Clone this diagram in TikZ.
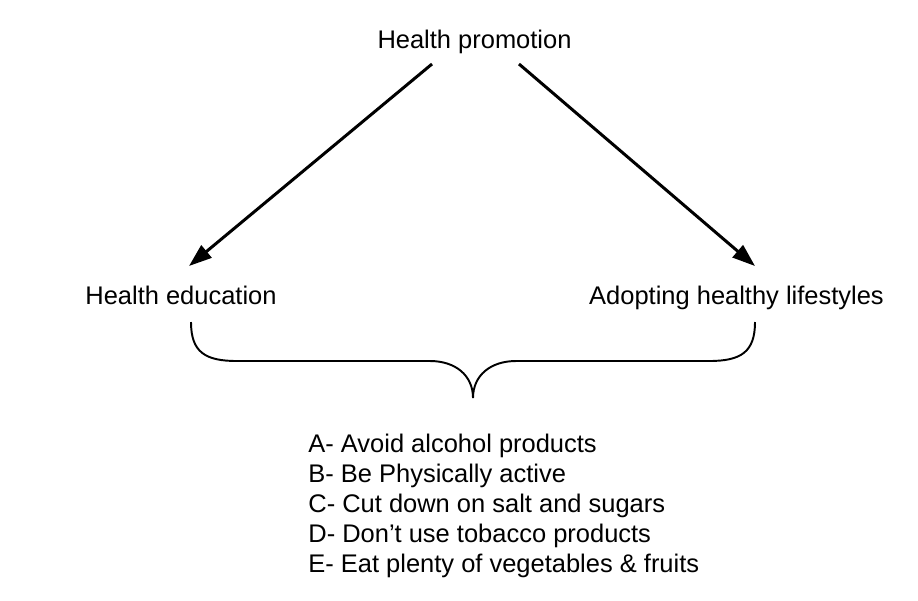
\documentclass[tikz,border=0pt]{standalone}
\usepackage{fontspec}
\setmainfont{Liberation Sans}
\usepackage{tikz}
\usetikzlibrary{calc}
\usetikzlibrary{arrows.meta}

\begin{document}
\begin{tikzpicture}[x=0.02cm, y=-0.02cm,
  every node/.style={font=\fontsize{14.5}{17}\selectfont},
  arrow/.style={line width=1.7pt, -{Triangle[length=13pt, width=9pt]}}]
\useasboundingbox (0, 0) rectangle (918, 600);

% TOP
\node[anchor=base] (promo) at (474.5, 48) {Health promotion};

% SIDES
\node[anchor=base] (edu) at (181, 304) {Health education};
\node[anchor=base] (life) at (736.5, 304) {Adopting healthy lifestyles};

% ARROWS
\draw[arrow] ($(promo.base) + (-42.5, 16)$) -- ($(edu.base) + (8, -38)$);
\draw[arrow] ($(promo.base) + (44.5, 16)$) -- ($(life.base) + (18.5, -38)$);

% BRACE
\coordinate (bl) at ($(edu.base) + (10, 18)$);
\coordinate (br) at ($(life.base) + (18.5, 18)$);
\coordinate (bt) at (473, 398);
\draw[line width=1.1pt] (bl) .. controls (191, 352) and (205, 361) .. (237, 361)
  -- (430, 361) .. controls (455, 361) and (473, 375) .. (bt)
  .. controls (473, 375) and (491, 361) .. (516, 361)
  -- (709, 361) .. controls (741, 361) and (755, 352) .. (br);

% LIST
\node[anchor=north west, align=left, inner sep=0] (tips) at (308, 434)
  {A- Avoid alcohol products\\
   B- Be Physically active\\
   C- Cut down on salt and sugars\\
   D- Don’t use tobacco products\\
   E- Eat plenty of vegetables \& fruits};

\end{tikzpicture}
\end{document}
